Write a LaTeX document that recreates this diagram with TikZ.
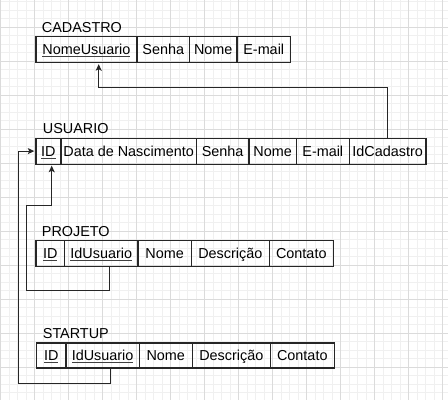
\documentclass[tikz,border=0pt]{standalone}
\usepackage{fontspec}
\setmainfont{Liberation Sans}
\usetikzlibrary{arrows.meta}
\newcommand\myul[1]{\setbox0\hbox{#1}\rlap{\color{black!75}\rule[-2.2pt]{\wd0}{0.7pt}}\box0}
\begin{document}
\begin{tikzpicture}[x=1pt,y=-1pt,
  gridminor/.style={draw=black!6, line width=0.8pt},
  gridmajor/.style={draw=black!14, line width=0.8pt},
  cell/.style={draw=black!85, line width=1.2pt, anchor=north west, inner sep=0pt,
    text height=10.5pt, text depth=0pt, font=\fontsize{14.4}{17}\selectfont},
  title/.style={anchor=base west, inner sep=0pt, font=\fontsize{14.4}{17}\selectfont},
  edge/.style={draw=black!85, line width=1.1pt},
  arr/.style={edge, -{Stealth[length=6.5pt,width=6pt,inset=1.5pt]}, shorten >=1pt}]
\useasboundingbox (0,0) rectangle (448,400);
\fill[white] (0,0) rectangle (448,400);
% grid
\foreach \i in {0,...,52} {\pgfmathsetmacro\xx{0.7+8.5*\i}\draw[gridminor] (\xx,0) -- (\xx,400);}
\foreach \j in {0,...,46} {\pgfmathsetmacro\yy{1.8+8.5*\j}\draw[gridminor] (0,\yy) -- (448,\yy);}
\foreach \k in {0,...,13} {\pgfmathsetmacro\xx{0.7+34*\k}\draw[gridmajor] (\xx,0) -- (\xx,400);}
\foreach \k in {0,...,10} {\pgfmathsetmacro\yy{27.3+34*\k}\draw[gridmajor] (0,\yy) -- (448,\yy);}
% CADASTRO
\node[title] (tcad) at (41.7,32) {CADASTRO};
\node[cell, minimum width=101pt, minimum height=26pt] (cad1) at (35.3,36) {\myul{NomeUsuario}};
\node[cell, minimum width=52.7pt, minimum height=26pt] (cad2) at (136.3,36) {Senha};
\node[cell, minimum width=47.3pt, minimum height=26pt] (cad3) at (189,36) {Nome};
\node[cell, minimum width=53.7pt, minimum height=26pt] (cad4) at (236.3,36) {E-mail};
% USUARIO
\node[title] (tusu) at (42.7,133) {USUARIO};
\node[cell, minimum width=25pt, minimum height=26pt] (usu1) at (35.3,137.5) {\myul{ID}};
\node[cell, minimum width=135.4pt, minimum height=26pt] (usu2) at (60.3,137.5) {Data de Nascimento};
\node[cell, minimum width=52.6pt, minimum height=26pt] (usu3) at (195.7,137.5) {Senha};
\node[cell, minimum width=47.4pt, minimum height=26pt] (usu4) at (248.3,137.5) {Nome};
\node[cell, minimum width=53pt, minimum height=26pt] (usu5) at (295.7,137.5) {E-mail};
\node[cell, minimum width=76.6pt, minimum height=26pt] (usu6) at (348.7,137.5) {IdCadastro};
% PROJETO
\node[title] (tpro) at (41.7,236) {PROJETO};
\node[cell, minimum width=28.7pt, minimum height=25.7pt] (pro1) at (35.3,240) {\myul{ID}};
\node[cell, minimum width=73.3pt, minimum height=25.7pt] (pro2) at (64,240) {\myul{IdUsuario}};
\node[cell, minimum width=53.4pt, minimum height=25.7pt] (pro3) at (137.3,240) {Nome};
\node[cell, minimum width=78pt, minimum height=25.7pt] (pro4) at (190.7,240) {Descrição};
\node[cell, minimum width=64pt, minimum height=25.7pt] (pro5) at (268.7,240) {Contato};
% STARTUP
\node[title] (tsta) at (42.7,338) {STARTUP};
\node[cell, minimum width=29.3pt, minimum height=25pt] (sta1) at (36,342.3) {\myul{ID}};
\node[cell, minimum width=73.4pt, minimum height=25pt] (sta2) at (65.3,342.3) {\myul{IdUsuario}};
\node[cell, minimum width=53pt, minimum height=25pt] (sta3) at (138.7,342.3) {Nome};
\node[cell, minimum width=78pt, minimum height=25pt] (sta4) at (191.7,342.3) {Descrição};
\node[cell, minimum width=64pt, minimum height=25pt] (sta5) at (269.7,342.3) {Contato};
% connectors
\coordinate (a1) at (98.7,87.3);
\draw[arr] (usu6.north) |- (a1) -- (a1 |- cad1.south);
\coordinate (b1) at (109.3,290.7);
\coordinate (b2) at (26.7,205.7);
\coordinate (b3) at (51.7,205.7);
\draw[arr] (b1 |- pro2.south) -- (b1) -| (b2) -- (b3) -- (b3 |- usu1.south);
\coordinate (c1) at (110.3,383.7);
\coordinate (c2) at (18.3,0);
\draw[arr] (c1 |- sta2.south) -- (c1) -| (c2 |- usu1.west) -- (usu1.west);
\end{tikzpicture}
\end{document}
